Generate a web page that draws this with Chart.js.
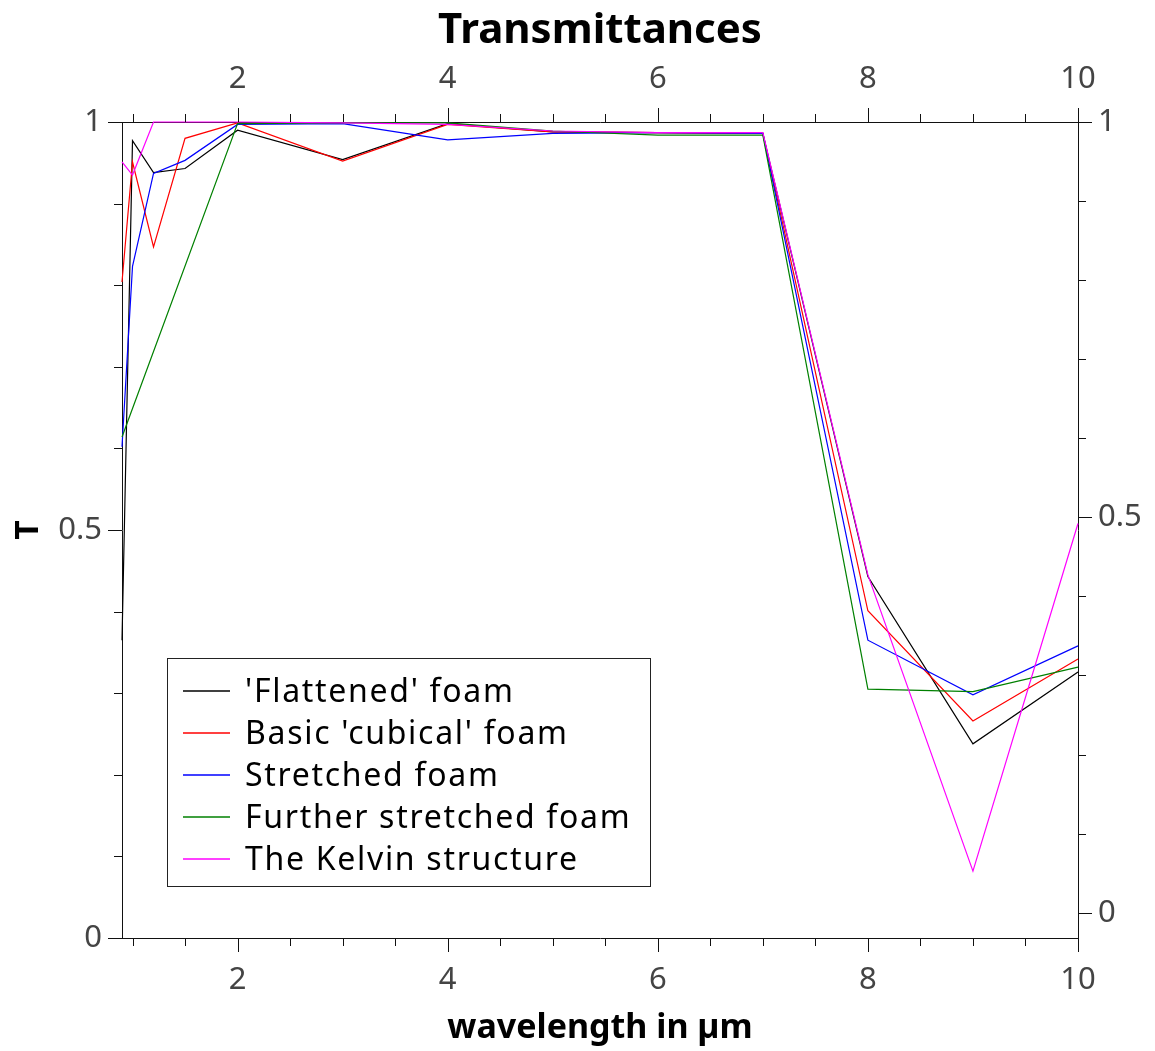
<!DOCTYPE html>
<html>
<head>
<meta charset="utf-8">
<script src="https://cdn.jsdelivr.net/npm/chart.js@4.4.1/dist/chart.umd.min.js"></script>
<style>
  html, body { margin: 0; padding: 0; background: #fff; }
  #wrap { width: 1155px; height: 1051px; }
</style>
</head>
<body>
<div id="wrap"><canvas id="transChart"></canvas></div>
<script>
// wavelengths (µm) and transmittance per structure
const wavelengths = [0.9, 1.0, 1.2, 1.5, 2, 3, 4, 5, 6, 7, 8, 9, 10];
const flattened = [0.365, 0.977, 0.938, 0.943, 0.990, 0.954, 0.998, 0.988, 0.987, 0.986, 0.443, 0.238, 0.326];
const cubical   = [0.804, 0.951, 0.847, 0.980, 0.999, 0.952, 0.997, 0.988, 0.987, 0.986, 0.401, 0.266, 0.342];
const stretched = [0.602, 0.823, 0.937, 0.953, 0.997, 0.998, 0.978, 0.986, 0.987, 0.986, 0.365, 0.298, 0.358];
const further   = [0.614, null, null, null, 0.998, 0.999, 0.999, 0.989, 0.984, 0.984, 0.305, 0.302, 0.332];
const kelvin    = [0.951, 0.935, 1.000, 1.000, 1.000, 0.999, 0.997, 0.989, 0.987, 0.987, 0.445, 0.082, 0.508];

const seriesNames = ["'Flattened' foam", "Basic 'cubical' foam", "Stretched foam", "Further stretched foam", "The Kelvin structure"];
const seriesColors = ['#000000', '#ff0000', '#0000ff', '#008000', '#ff00ff'];

const xTickValues = [2, 4, 6, 8, 10];
const yTickValues = [0, 0.5, 1];

const FONT = "'Noto Sans', sans-serif";
const tickColor = '#444444';

function toPoints(values) {
    return wavelengths.map((x, i) => ({ x: x, y: values[i] }));
}

const allSeries = [flattened, cubical, stretched, further, kelvin];
const datasets = allSeries.map((vals, i) => ({
    label: seriesNames[i],
    data: toPoints(vals),
    borderColor: seriesColors[i],
    backgroundColor: seriesColors[i],
    borderWidth: 1.2,
    pointRadius: 0,
    tension: 0,
    spanGaps: true,
    clip: false,
    order: allSeries.length - i // later series drawn on top
}));

function fixTicks(values) {
    return function (scale) {
        scale.ticks = values.map(v => ({ value: v }));
    };
}

// minor / major tick marks on all four sides
const tickMarks = {
    id: 'tickMarks',
    afterDraw(chart) {
        const ctx = chart.ctx;
        const a = chart.chartArea;
        ctx.save();
        ctx.strokeStyle = '#111';
        ctx.lineWidth = 1;
        ctx.beginPath();
        ['x', 'x2'].forEach(id => {
            const s = chart.scales[id];
            for (let v = 1; v <= 10.001; v += 0.5) {
                const px = Math.round(s.getPixelForValue(v)) + 0.5;
                const major = Math.abs(v / 2 - Math.round(v / 2)) < 1e-6;
                const len = major ? 14 : 8;
                if (id === 'x') { ctx.moveTo(px, a.bottom); ctx.lineTo(px, a.bottom + len); }
                else { ctx.moveTo(px, a.top); ctx.lineTo(px, a.top - len); }
            }
        });
        ['y', 'y2'].forEach(id => {
            const s = chart.scales[id];
            for (let k = 0; k <= 10; k++) {
                const py = Math.round(s.getPixelForValue(k / 10)) + 0.5;
                const len = (k % 5 === 0) ? 14 : 8;
                if (id === 'y') { ctx.moveTo(a.left, py); ctx.lineTo(a.left - len, py); }
                else { ctx.moveTo(a.right, py); ctx.lineTo(a.right + len, py); }
            }
        });
        ctx.stroke();
        ctx.restore();
    }
};

// boxed legend inside the plot, lower left
const boxLegend = {
    id: 'boxLegend',
    afterDraw(chart) {
        const ctx = chart.ctx;
        const x0 = 167, y0 = 658, w = 483, h = 228;
        ctx.save();
        ctx.fillStyle = '#fff';
        ctx.fillRect(x0, y0, w, h);
        ctx.strokeStyle = '#222';
        ctx.lineWidth = 1;
        ctx.strokeRect(x0 + 0.5, y0 + 0.5, w, h);
        ctx.font = '32px ' + FONT;
        ctx.letterSpacing = '1.7px';
        ctx.textBaseline = 'middle';
        chart.data.datasets.forEach((ds, i) => {
            const cy = 691 + i * 42;
            ctx.strokeStyle = ds.borderColor;
            ctx.lineWidth = 1.5;
            ctx.beginPath();
            ctx.moveTo(183, cy);
            ctx.lineTo(230, cy);
            ctx.stroke();
            ctx.fillStyle = '#000';
            ctx.fillText(ds.label, 245, cy + 2);
        });
        ctx.restore();
    }
};

const ctx = document.getElementById('transChart').getContext('2d');
const transChart = new Chart(ctx, {
    type: 'line',
    data: { datasets: datasets },
    options: {
        responsive: true,
        maintainAspectRatio: false,
        animation: false,
        layout: { padding: 0 },
        plugins: {
            legend: { display: false },
            tooltip: { enabled: false }
        },
        scales: {
            x: {
                type: 'linear', position: 'bottom', min: 0.9, max: 10,
                afterBuildTicks: fixTicks(xTickValues),
                afterFit: s => { s.height = 113; },
                grid: { display: false, drawTicks: false },
                border: { display: true, color: '#111', width: 1 },
                ticks: { color: tickColor, padding: 24, maxRotation: 0, font: { family: FONT, size: 31 } },
                title: { display: true, text: 'wavelength in µm', color: '#000', padding: { top: 0, bottom: 2 }, font: { family: FONT, size: 34, weight: 'bold' } }
            },
            x2: {
                type: 'linear', position: 'top', min: 0.9, max: 10,
                afterBuildTicks: fixTicks(xTickValues),
                afterFit: s => { s.height = 122; },
                grid: { display: false, drawTicks: false },
                border: { display: true, color: '#111', width: 1 },
                ticks: { color: tickColor, padding: 24, maxRotation: 0, font: { family: FONT, size: 31 } },
                title: { display: true, text: 'Transmittances', color: '#000', padding: { top: 6, bottom: 0 }, font: { family: FONT, size: 42, weight: 'bold' } }
            },
            y: {
                type: 'linear', position: 'left', min: 0, max: 1,
                afterBuildTicks: fixTicks(yTickValues),
                afterFit: s => { s.width = 122; },
                grid: { display: false, drawTicks: false },
                border: { display: true, color: '#111', width: 1 },
                ticks: { color: tickColor, padding: 20, font: { family: FONT, size: 31 }, callback: v => String(v) },
                title: { display: true, text: 'T', color: '#000', padding: { top: 9, bottom: 0 }, font: { family: FONT, size: 33, weight: 'bold' } }
            },
            y2: {
                type: 'linear', position: 'right', min: -0.032, max: 1,
                afterBuildTicks: fixTicks(yTickValues),
                afterFit: s => { s.width = 77; },
                grid: { display: false, drawTicks: false },
                border: { display: true, color: '#111', width: 1 },
                ticks: { color: tickColor, padding: 20, font: { family: FONT, size: 31 }, callback: v => String(v) }
            }
        }
    },
    plugins: [tickMarks, boxLegend]
});
</script>
</body>
</html>
